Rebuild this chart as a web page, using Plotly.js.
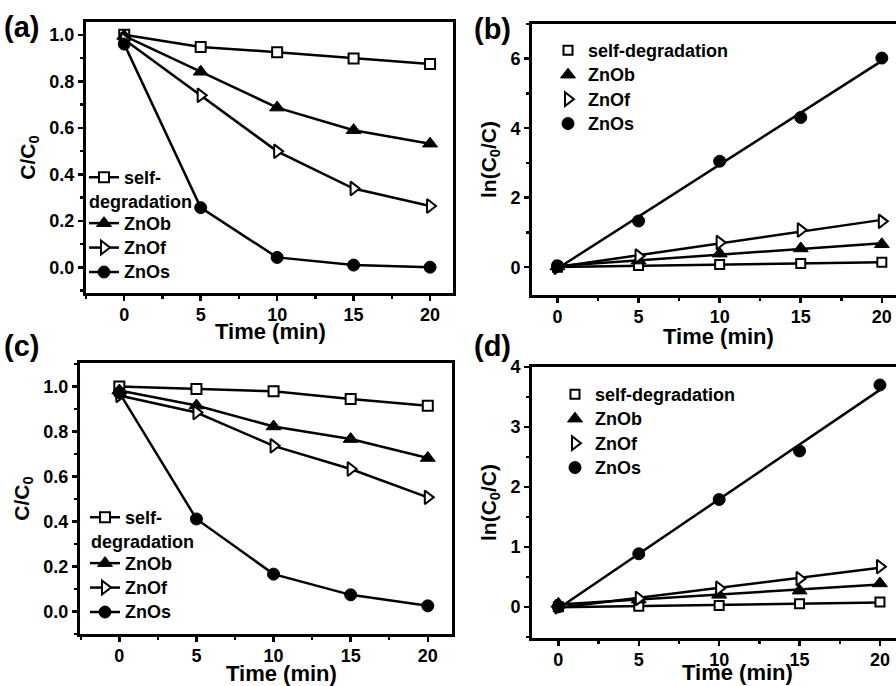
<!DOCTYPE html>
<html>
<head>
<meta charset="utf-8">
<script src="https://cdn.plot.ly/plotly-3.0.1.min.js"></script>
<style>
  html, body { margin: 0; padding: 0; overflow: hidden; background: #fff; }
  #chart { width: 910px; height: 686px; }
</style>
</head>
<body>
<div id="chart"></div>
<script>
// Irradiation time (min)
const time = [0, 5, 10, 15, 20];
const seriesNames = ['self-degradation', 'ZnOb', 'ZnOf', 'ZnOs'];
const timeTitle = 'Time (min)';

// (a) C/C0 vs time
const aSelf = [1.0, 0.948, 0.925, 0.898, 0.874];
const aZnOb = [0.995, 0.841, 0.687, 0.590, 0.532];
const aZnOf = [0.98, 0.740, 0.499, 0.339, 0.264];
const aZnOs = [0.96, 0.257, 0.043, 0.010, 0.001];

// (b) ln(C0/C) vs time
const bSelf = [0, 0.05, 0.075, 0.105, 0.14];
const bZnOb = [0.02, 0.19, 0.39, 0.54, 0.66];
const bZnOf = [0, 0.32, 0.71, 1.07, 1.32];
const bZnOs = [0.04, 1.33, 3.05, 4.31, 6.02];

// (c) C/C0 vs time
const cSelf = [1.0, 0.988, 0.978, 0.944, 0.914];
const cZnOb = [0.982, 0.915, 0.822, 0.766, 0.682];
const cZnOf = [0.96, 0.884, 0.736, 0.633, 0.507];
const cZnOs = [0.972, 0.411, 0.166, 0.074, 0.025];

// (d) ln(C0/C) vs time
const dSelf = [0, 0.01, 0.02, 0.05, 0.08];
const dZnOb = [0.05, 0.12, 0.20, 0.27, 0.39];
const dZnOf = [0, 0.14, 0.31, 0.47, 0.67];
const dZnOs = [0, 0.885, 1.79, 2.60, 3.70];

const FONT = 'Liberation Sans, Arial, Helvetica, sans-serif';
const W = 910, H = 686;
const LEGEND_TEXT = 18;

const markers = [
  {symbol: 'square', size: 10, color: '#fff', line: {color: '#000', width: 2}},
  {symbol: 'triangle-up', size: 13, color: '#000', line: {color: '#000', width: 1}},
  {symbol: 'triangle-right', size: 12, color: '#fff', line: {color: '#000', width: 2}},
  {symbol: 'circle', size: 12, color: '#000', line: {color: '#000', width: 1}}
];

// least-squares straight line through a series
function fit(xs, ys) {
  const n = xs.length;
  const mx = xs.reduce((s, v) => s + v, 0) / n;
  const my = ys.reduce((s, v) => s + v, 0) / n;
  let sxy = 0, sxx = 0;
  for (let i = 0; i < n; i++) { sxy += (xs[i] - mx) * (ys[i] - my); sxx += (xs[i] - mx) ** 2; }
  const k = sxy / sxx, b = my - k * mx;
  const x0 = Math.min(...xs), x1 = Math.max(...xs);
  return {x: [x0, x1], y: [k * x0 + b, k * x1 + b]};
}

const big = t => '<span style="font-size:' + LEGEND_TEXT + 'px">' + t + '</span>';

const traces = [];

function decayPanel(sets, xa, ya, leg) {
  sets.forEach((ys, i) => {
    traces.push({
      x: time, y: ys, xaxis: xa, yaxis: ya, legend: leg,
      name: i === 0 ? big('self-') + '<br> ' : big(seriesNames[i]),
      mode: 'lines+markers', type: 'scatter',
      line: {color: '#000', width: 2.5},
      marker: markers[i], cliponaxis: false
    });
  });
}

function kineticPanel(sets, xa, ya, leg) {
  sets.forEach((ys, i) => {
    const f = fit(time, ys);
    traces.push({
      x: f.x, y: f.y, xaxis: xa, yaxis: ya, showlegend: false,
      mode: 'lines', type: 'scatter', line: {color: '#000', width: 2.5},
      hoverinfo: 'skip'
    });
  });
  sets.forEach((ys, i) => {
    const m = Object.assign({}, markers[i]);
    if (i === 0) m.size = 9;
    traces.push({
      x: time, y: ys, xaxis: xa, yaxis: ya, legend: leg,
      name: big(seriesNames[i]), mode: 'markers', type: 'scatter',
      marker: m, cliponaxis: false
    });
  });
}

decayPanel([aSelf, aZnOb, aZnOf, aZnOs], 'x', 'y', 'legend');
kineticPanel([bSelf, bZnOb, bZnOf, bZnOs], 'x2', 'y2', 'legend2');
decayPanel([cSelf, cZnOb, cZnOf, cZnOs], 'x3', 'y3', 'legend3');
kineticPanel([dSelf, dZnOb, dZnOf, dZnOs], 'x4', 'y4', 'legend4');

const px = v => v / W;
const py = v => 1 - v / H;

const tickFont = {family: FONT, size: 18, weight: 'bold', color: '#000'};

function xAxis(domain, range, anchor) {
  return {
    domain: domain, range: range, anchor: anchor,
    tickvals: time, ticks: 'outside', ticklen: 5, tickwidth: 2.5, tickcolor: '#000',
    minor: {dtick: 2.5, tick0: 0, ticks: 'outside', ticklen: 3, tickwidth: 2.5, tickcolor: '#000'},
    showline: true, mirror: true, linewidth: 3, linecolor: '#000',
    showgrid: false, zeroline: false, ticklabelstandoff: -2,
    tickfont: tickFont
  };
}

function yAxis(domain, range, anchor, dtick, minor, titleText, fmt) {
  return {
    domain: domain, range: range, anchor: anchor,
    dtick: dtick, tick0: 0, tickformat: fmt,
    ticks: 'outside', ticklen: 5, tickwidth: 2.5, tickcolor: '#000',
    minor: {dtick: minor, tick0: 0, ticks: 'outside', ticklen: 3, tickwidth: 2.5, tickcolor: '#000'},
    showline: true, mirror: true, linewidth: 3, linecolor: '#000',
    showgrid: false, zeroline: false,
    tickfont: tickFont,
    title: {text: titleText, standoff: 9, font: {family: FONT, size: 21, weight: 'bold', color: '#000'}}
  };
}

function legendBox(x, yTop) {
  return {
    x: px(x), y: py(yTop), xanchor: 'left', yanchor: 'top',
    bgcolor: 'rgba(0,0,0,0)', borderwidth: 0, valign: 'top',
    font: {family: FONT, size: 16.5, weight: 'bold', color: '#000'},
    tracegroupgap: 0
  };
}

function text(t, x, y, size, anchor, vAnchor) {
  return {text: t, x: px(x), y: py(y), xref: 'paper', yref: 'paper',
    xanchor: anchor, yanchor: vAnchor || 'middle', showarrow: false, borderpad: 0,
    font: {family: FONT, size: size, weight: 'bold', color: '#000'}};
}

const layout = {
  width: W, height: H,
  margin: {l: 0, r: 0, t: 0, b: 0},
  paper_bgcolor: '#fff', plot_bgcolor: '#fff',
  font: {family: FONT, color: '#000'},
  xaxis: xAxis([px(86), px(453)], [-2.5, 21.5], 'y'),
  yaxis: yAxis([py(293), py(22)], [-0.11, 1.055], 'x', 0.2, 0.1, 'C/C<sub>0</sub>', '.1f'),
  xaxis2: xAxis([px(532), px(906)], [-1.57, 21.49], 'y2'),
  yaxis2: yAxis([py(295), py(24)], [-0.8, 7.0], 'x2', 2, 1, 'ln(C<sub>0</sub>/C)', 'd'),
  xaxis3: xAxis([px(80), px(452)], [-2.55, 21.57], 'y3'),
  yaxis3: yAxis([py(634), py(363)], [-0.1, 1.104], 'x3', 0.2, 0.1, 'C/C<sub>0</sub>', '.1f'),
  xaxis4: xAxis([px(532), px(906)], [-1.64, 21.62], 'y4'),
  yaxis4: yAxis([py(638), py(367)], [-0.52, 4.0], 'x4', 1, 0.5, 'ln(C<sub>0</sub>/C)', 'd'),
  legend: legendBox(84, 160),
  legend2: legendBox(548, 33),
  legend3: legendBox(85, 500),
  legend4: legendBox(555, 377),
  annotations: [
    // panel letters
    text('(a)', 3, 27, 29, 'left'), text('(b)', 473, 29, 29, 'left'),
    text('(c)', 3, 346, 29, 'left'), text('(d)', 473, 346, 29, 'left'),
    // wrapped part of the first legend entry
    text('degradation', 88, 202, LEGEND_TEXT, 'left'),
    text('degradation', 90, 542, LEGEND_TEXT, 'left'),
    // time-axis titles
    text(timeTitle, 270, 331, 22, 'center'),
    text(timeTitle, 718, 337, 22, 'center'),
    text(timeTitle, 281, 673, 22, 'center'),
    text(timeTitle, 737, 686, 22, 'center', 'bottom')
  ],
  showlegend: true
};

Plotly.newPlot('chart', traces, layout, {staticPlot: true, displayModeBar: false});
</script>
</body>
</html>
